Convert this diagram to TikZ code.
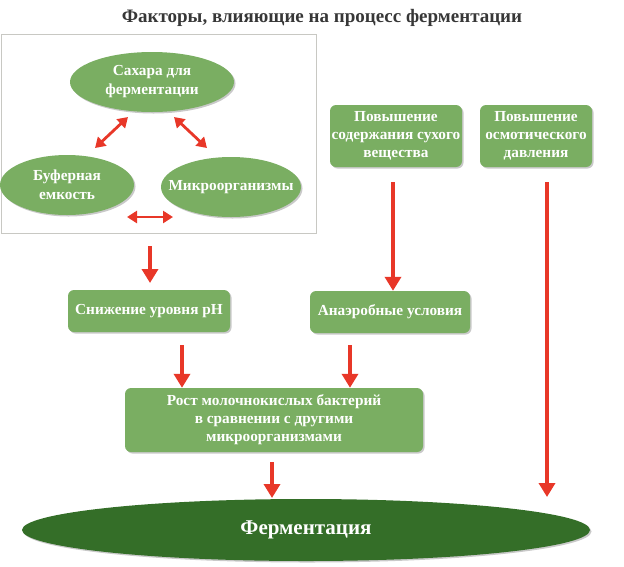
\documentclass[tikz,border=0pt]{standalone}
\usepackage{fontspec}
\setmainfont{Liberation Serif}
\usetikzlibrary{arrows.meta,shapes.geometric,shadows}
\definecolor{lgreen}{RGB}{122,174,98}
\definecolor{dgreen}{RGB}{52,110,40}
\definecolor{ared}{RGB}{232,55,40}
\definecolor{ttl}{RGB}{55,55,55}
\definecolor{frm}{RGB}{200,200,195}
\tikzset{
  shad/.style={drop shadow={shadow xshift=1.5pt,shadow yshift=-1.5pt,opacity=0.3,fill=black!70}},
  oval/.style={ellipse,fill=lgreen,shad,text=white,font=\bfseries\fontsize{15.3}{19}\selectfont,align=center,inner sep=0pt},
  gbox/.style={rectangle,rounded corners=6pt,fill=lgreen,shad,text=white,font=\bfseries\fontsize{15.3}{18}\selectfont,align=center,inner sep=0pt},
  downarr/.style={draw=ared,line width=4.5pt,-{Triangle[length=14pt,width=16pt]}},
  dblarr/.style={draw=ared,line width=2.8pt,{Triangle[length=10pt,width=12pt]}-{Triangle[length=10pt,width=12pt]}},
}
\begin{document}
\begin{tikzpicture}[x=1pt,y=-1pt]
\useasboundingbox (0,0) rectangle (624,566);
\node[text=ttl,font=\bfseries\fontsize{19}{22}\selectfont] (title) at (322,18) {Факторы, влияющие на процесс ферментации};
\draw[frm,line width=0.8pt] (1,34) rectangle (316,233);
\node[oval,minimum width=164pt,minimum height=60pt] (sugar) at (152,82) {Сахара для\\ферментации};
\node[oval,minimum width=134pt,minimum height=60pt] (buffer) at (67,185) {Буферная\\емкость};
\node[oval,inner xsep=-18pt,minimum width=140pt,minimum height=60pt] (micro) at (231,187) {Микроорганизмы};
\node[gbox,minimum width=132pt,minimum height=62pt] (dry) at (396,136) {Повышение\\содержания сухого\\вещества};
\node[gbox,minimum width=112pt,minimum height=62pt] (osm) at (536,136) {Повышение\\осмотического\\давления};
\node[gbox,minimum width=162pt,minimum height=42pt] (ph) at (149,311) {Снижение уровня pH};
\node[gbox,minimum width=160pt,minimum height=42pt] (anaer) at (390,312) {Анаэробные условия};
\node[gbox,minimum width=298pt,minimum height=64pt] (rost) at (274,420) {Рост молочнокислых бактерий\\в сравнении с другими\\микроорганизмами};
\node[ellipse,fill=dgreen,shad,text=white,font=\bfseries\fontsize{21}{25}\selectfont,minimum width=568pt,minimum height=62pt,inner sep=0pt] (ferm) at (306,530) {Ферментация};
% double arrows
\coordinate (d1a) at (128,117); \coordinate (d1b) at (95,148);
\coordinate (d2a) at (174,117); \coordinate (d2b) at (207,148);
\coordinate (d3a) at (127,217); \coordinate (d3b) at (173,217);
\draw[dblarr] (d1a) -- (d1b);
\draw[dblarr] (d2a) -- (d2b);
\draw[dblarr] (d3a) -- (d3b);
% down arrows
\coordinate (s1) at (150,246);
\coordinate (e1) at (150,283);
\draw[downarr] (s1) -- (e1);
\draw[downarr] (393,182) -- (anaer.north -| 393,0);
\draw[downarr] (182,345) -- (rost.north -| 182,0);
\draw[downarr] (350,345) -- (rost.north -| 350,0);
\draw[downarr] (272,462) -- (272,498);
\draw[downarr] (547,182) -- (547,497);
\end{tikzpicture}
\end{document}
